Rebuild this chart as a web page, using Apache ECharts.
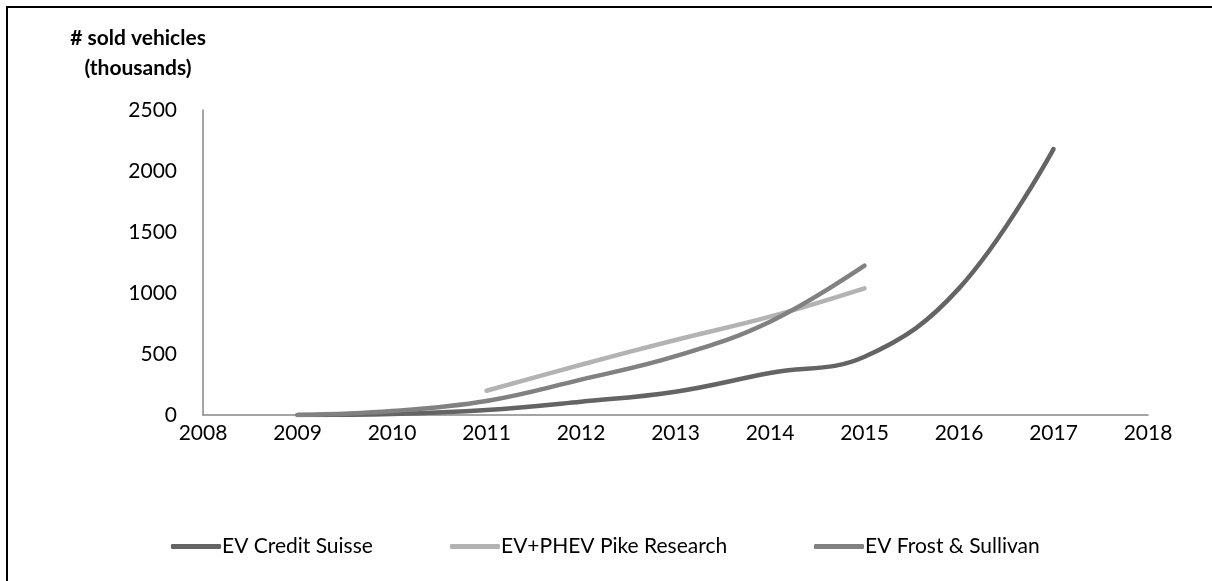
<!DOCTYPE html>
<html>
<head>
<meta charset="utf-8">
<script src="https://cdn.jsdelivr.net/npm/echarts@6/dist/echarts.min.js"></script>
<style>
  html, body { margin: 0; padding: 0; background: #fff; }
  #chart { width: 1212px; height: 581px; }
</style>
</head>
<body>
<div id="chart"></div>
<script>
const years = ['2008', '2009', '2010', '2011', '2012', '2013', '2014', '2015', '2016', '2017', '2018'];
const creditSuisse = [null, 0, 8, 41, 109, 191, 344, 478, 1038, 2180, null];
const pikeResearch = [null, null, null, 199, 412, 615, 806, 1038, null, null, null];
const frostSullivan = [null, 0, 33, 115, 290, 482, 765, 1224, null, null, null];
const seriesNames = ['EV Credit Suisse', 'EV+PHEV Pike Research', 'EV Frost & Sullivan'];
const seriesColors = ['#646464', '#b3b3b3', '#818181'];
const legendLeft = [166, 445, 809];

const font = 'Lato, "Noto Sans", sans-serif';
const chart = echarts.init(document.getElementById('chart'));

function lineSeries(name, data, color) {
  return {
    name: name,
    type: 'line',
    data: data,
    smooth: 0.4,
    symbol: 'none',
    connectNulls: false,
    lineStyle: { color: color, width: 4.5, cap: 'round' },
    itemStyle: { color: color }
  };
}

chart.setOption({
  animation: false,
  textStyle: { fontFamily: font },
  title: {
    text: '# sold vehicles\n(thousands)',
    left: 133,
    top: 18,
    textAlign: 'center',
    textStyle: { fontSize: 21, fontWeight: 'bold', color: '#000', lineHeight: 30, fontFamily: font }
  },
  graphic: [{
    type: 'rect',
    shape: { x: 7, y: 7, width: 1400, height: 800 },
    style: { fill: 'none', stroke: '#000', lineWidth: 2 },
    silent: true
  }],
  legend: seriesNames.map((name, i) => ({
    data: [{ name: name, icon: 'roundRect' }],
    left: legendLeft[i],
    top: 531,
    itemWidth: 50,
    itemHeight: 5,
    itemStyle: { color: seriesColors[i], borderWidth: 0 },
    textStyle: { fontSize: 21, color: '#000', fontFamily: font, padding: [0, 0, 0, -4] }
  })),
  grid: { left: 203, right: 64, top: 110, bottom: 166 },
  xAxis: {
    type: 'category',
    data: years,
    boundaryGap: false,
    axisLine: { lineStyle: { color: '#878787', width: 1.5 } },
    axisTick: { show: false },
    axisLabel: { fontSize: 21, color: '#000', margin: 8, fontFamily: font }
  },
  yAxis: {
    type: 'value',
    min: 0,
    max: 2500,
    interval: 500,
    axisLine: { show: true, lineStyle: { color: '#878787', width: 1.5 } },
    axisTick: { show: false },
    splitLine: { show: false },
    axisLabel: { fontSize: 21, color: '#000', margin: 26, fontFamily: font, formatter: v => String(v) }
  },
  series: [
    lineSeries(seriesNames[0], creditSuisse, seriesColors[0]),
    lineSeries(seriesNames[1], pikeResearch, seriesColors[1]),
    lineSeries(seriesNames[2], frostSullivan, seriesColors[2])
  ]
});
</script>
</body>
</html>
